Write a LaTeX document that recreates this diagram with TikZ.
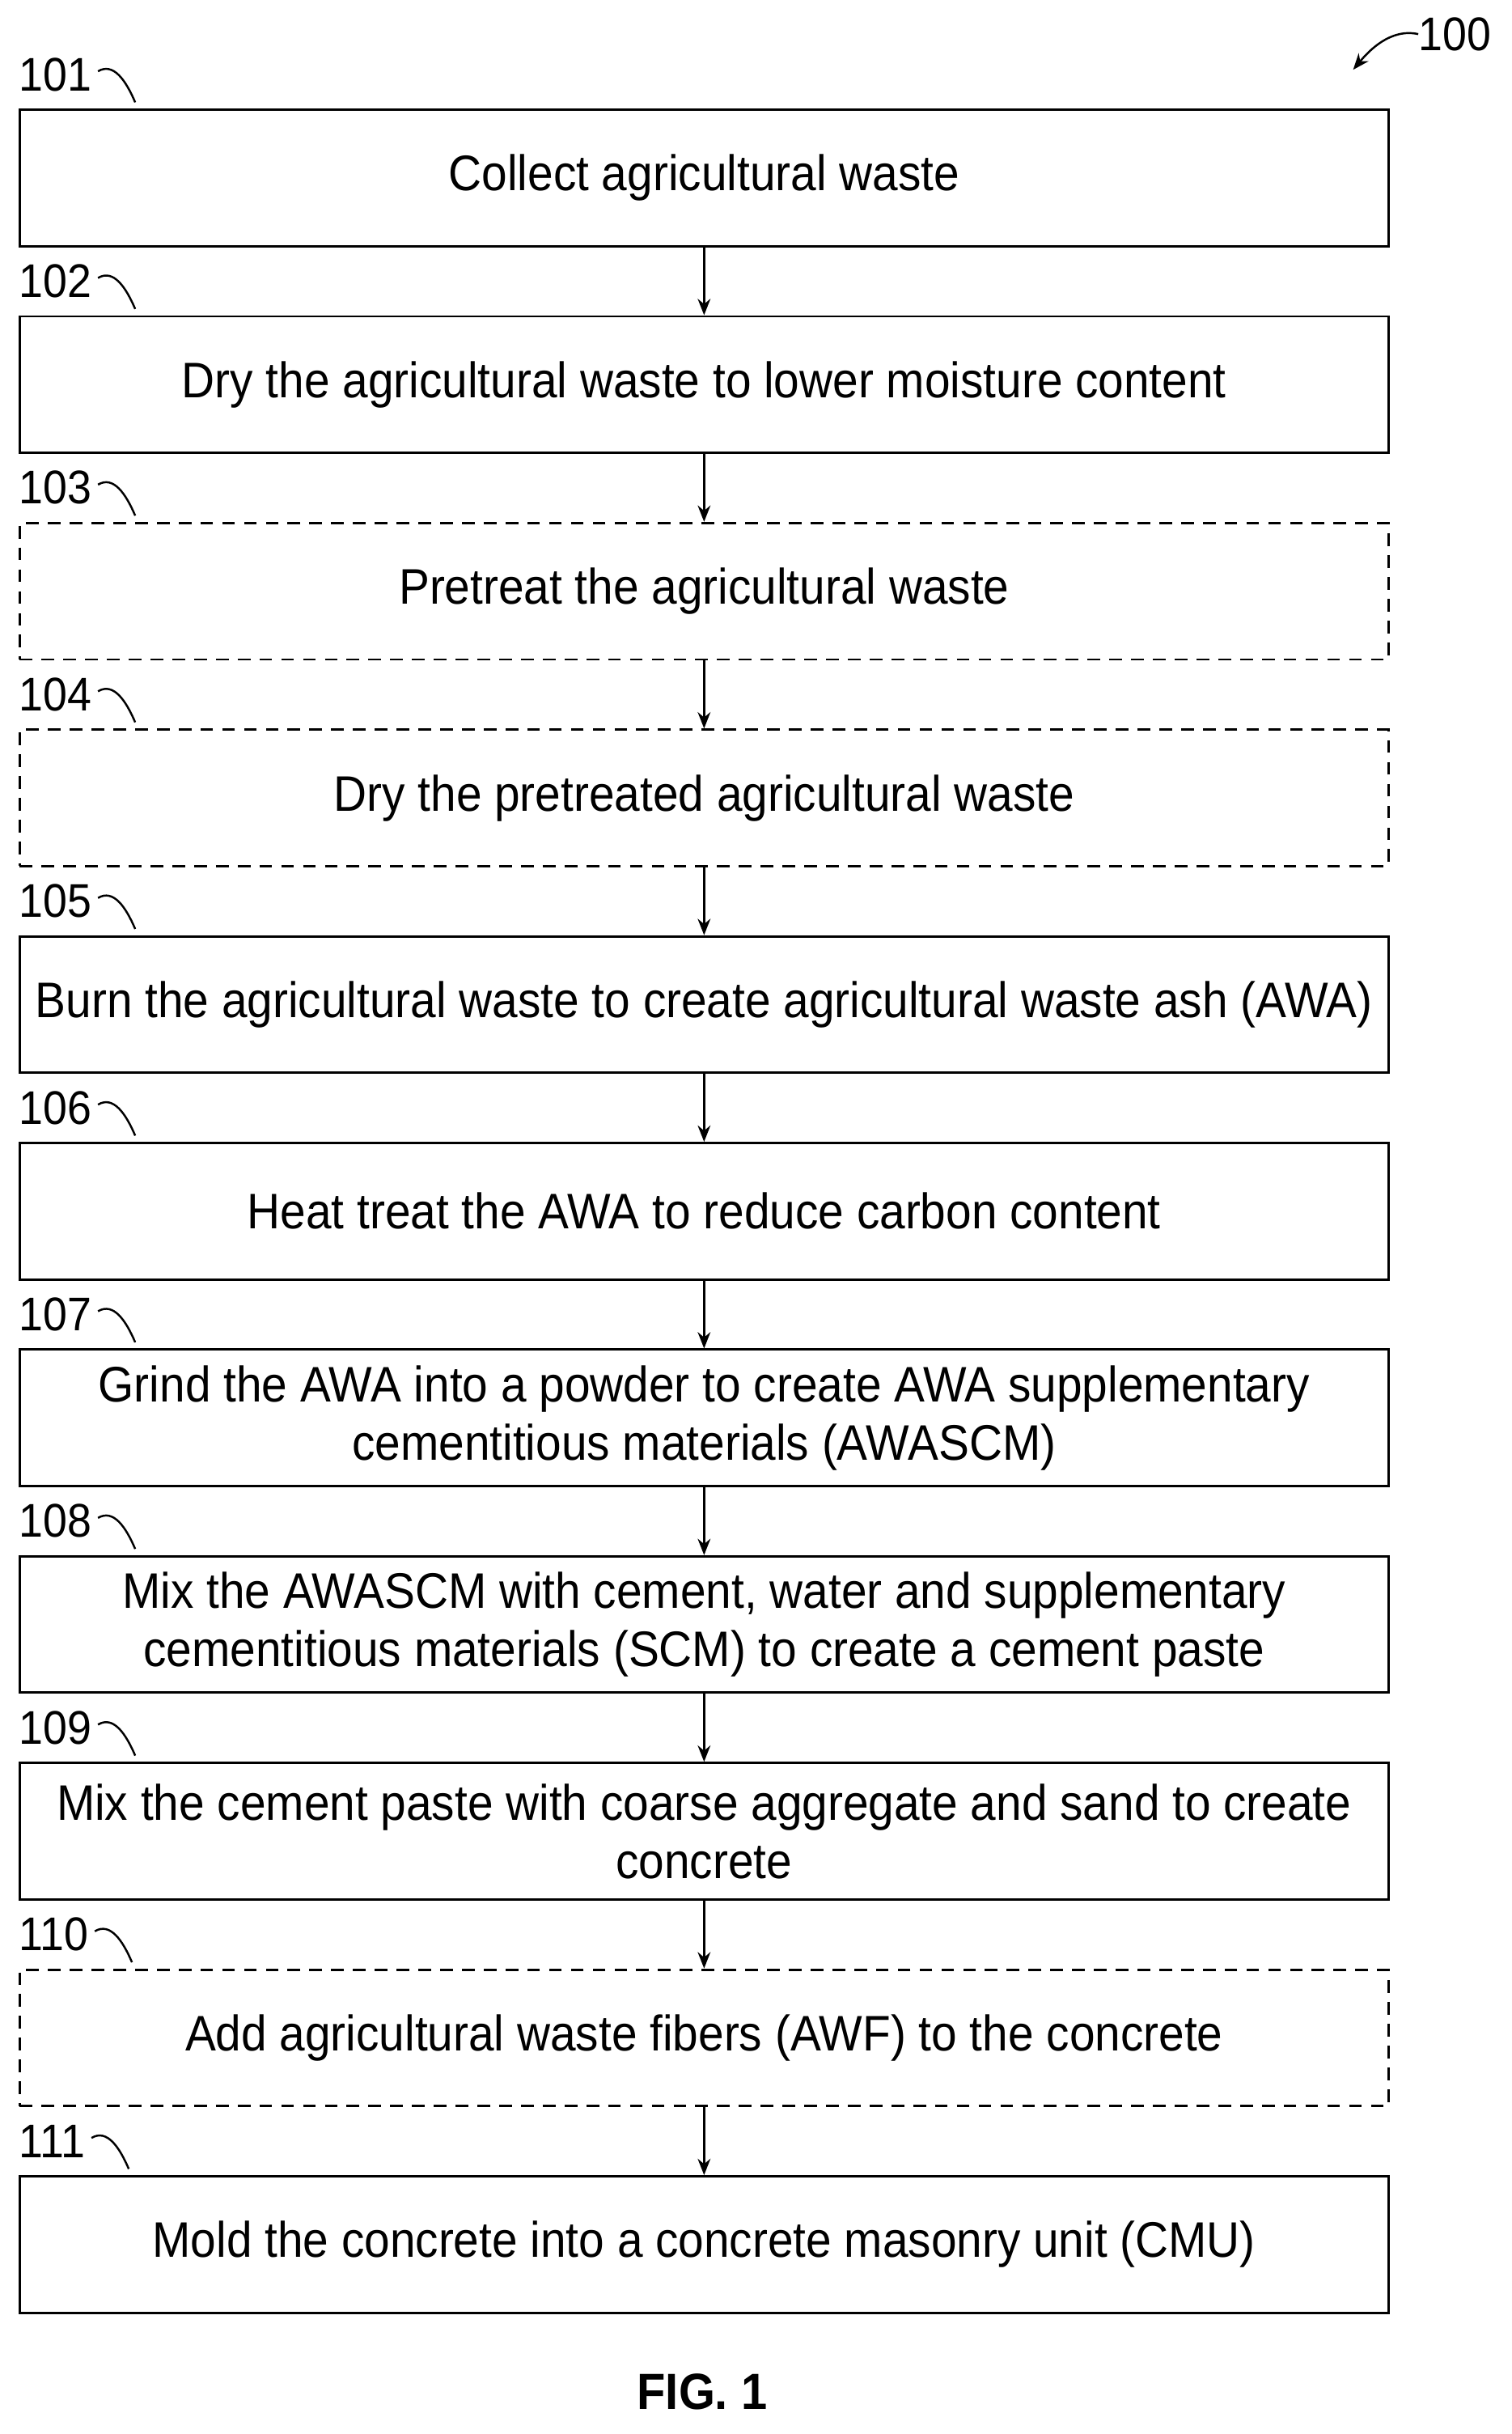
\documentclass[tikz,border=0pt]{standalone}
\usepackage{fontspec}
\setmainfont[FakeStretch=0.92]{Liberation Sans}
\usetikzlibrary{arrows.meta}
\begin{document}
\begin{tikzpicture}[x=0.03cm,y=-0.03cm,
  stepbox/.style={draw,line width=1.3pt,minimum width=883*0.03cm,minimum height=88*0.03cm,inner sep=0pt,align=center,font=\fontsize{27.5}{32}\selectfont,anchor=north west},
  optbox/.style={stepbox,dashed,dash pattern=on 7pt off 5pt},
  lab/.style={font=\fontsize{26}{30}\selectfont,anchor=west,inner sep=0pt},
  conn/.style={line width=1.3pt,-{Stealth[length=9pt,width=7pt]}},
  hook/.style={line width=1.1pt}]
\useasboundingbox (0,0) rectangle (975,1570);
\node[stepbox] (b1) at (12,70) {Collect agricultural waste};
\node[stepbox] (b2) at (12,203.3) {Dry the agricultural waste to lower moisture content};
\node[optbox] (b3) at (12,336.6) {Pretreat the agricultural waste};
\node[optbox] (b4) at (12,469.9) {Dry the pretreated agricultural waste};
\node[stepbox] (b5) at (12,603.2) {Burn the agricultural waste to create agricultural waste ash (AWA)};
\node[stepbox] (b6) at (12,736.5) {Heat treat the AWA to reduce carbon content};
\node[stepbox] (b7) at (12,869.8) {Grind the AWA into a powder to create AWA supplementary\\cementitious materials (AWASCM)};
\node[stepbox] (b8) at (12,1003.1) {Mix the AWASCM with cement, water and supplementary\\cementitious materials (SCM) to create a cement paste};
\node[stepbox] (b9) at (12,1136.4) {Mix the cement paste with coarse aggregate and sand to create\\concrete};
\node[optbox] (b10) at (12,1269.7) {Add agricultural waste fibers (AWF) to the concrete};
\node[stepbox] (b11) at (12,1403) {Mold the concrete into a concrete masonry unit (CMU)};
\foreach \i/\j in {1/2,2/3,3/4,4/5,5/6,6/7,7/8,8/9,9/10,10/11}{
  \draw[conn] (b\i.south) -- (b\j.north);}
\foreach \i/\n in {1/101,2/102,3/103,4/104,5/105,6/106,7/107,8/108,9/109,10/110,11/111}{
  \path (b\i.north west) ++(0,-22) node[lab] (l\i) {\n};
  \draw[hook] (l\i.east) ++(4,-2) .. controls +(10,-6) and +(-6,-14) .. ++(24,20);}
\node[lab] (l100) at (915,22) {100};
\coordinate (a100) at (873,45);
\draw[hook,-{Stealth[length=9pt,width=7pt]}] (l100.west) .. controls +(-18,-4) and +(10,-12) .. (a100);
\node[font=\bfseries\fontsize{28}{32}\selectfont] (fig) at (453,1543) {FIG. 1};
\end{tikzpicture}
\end{document}
